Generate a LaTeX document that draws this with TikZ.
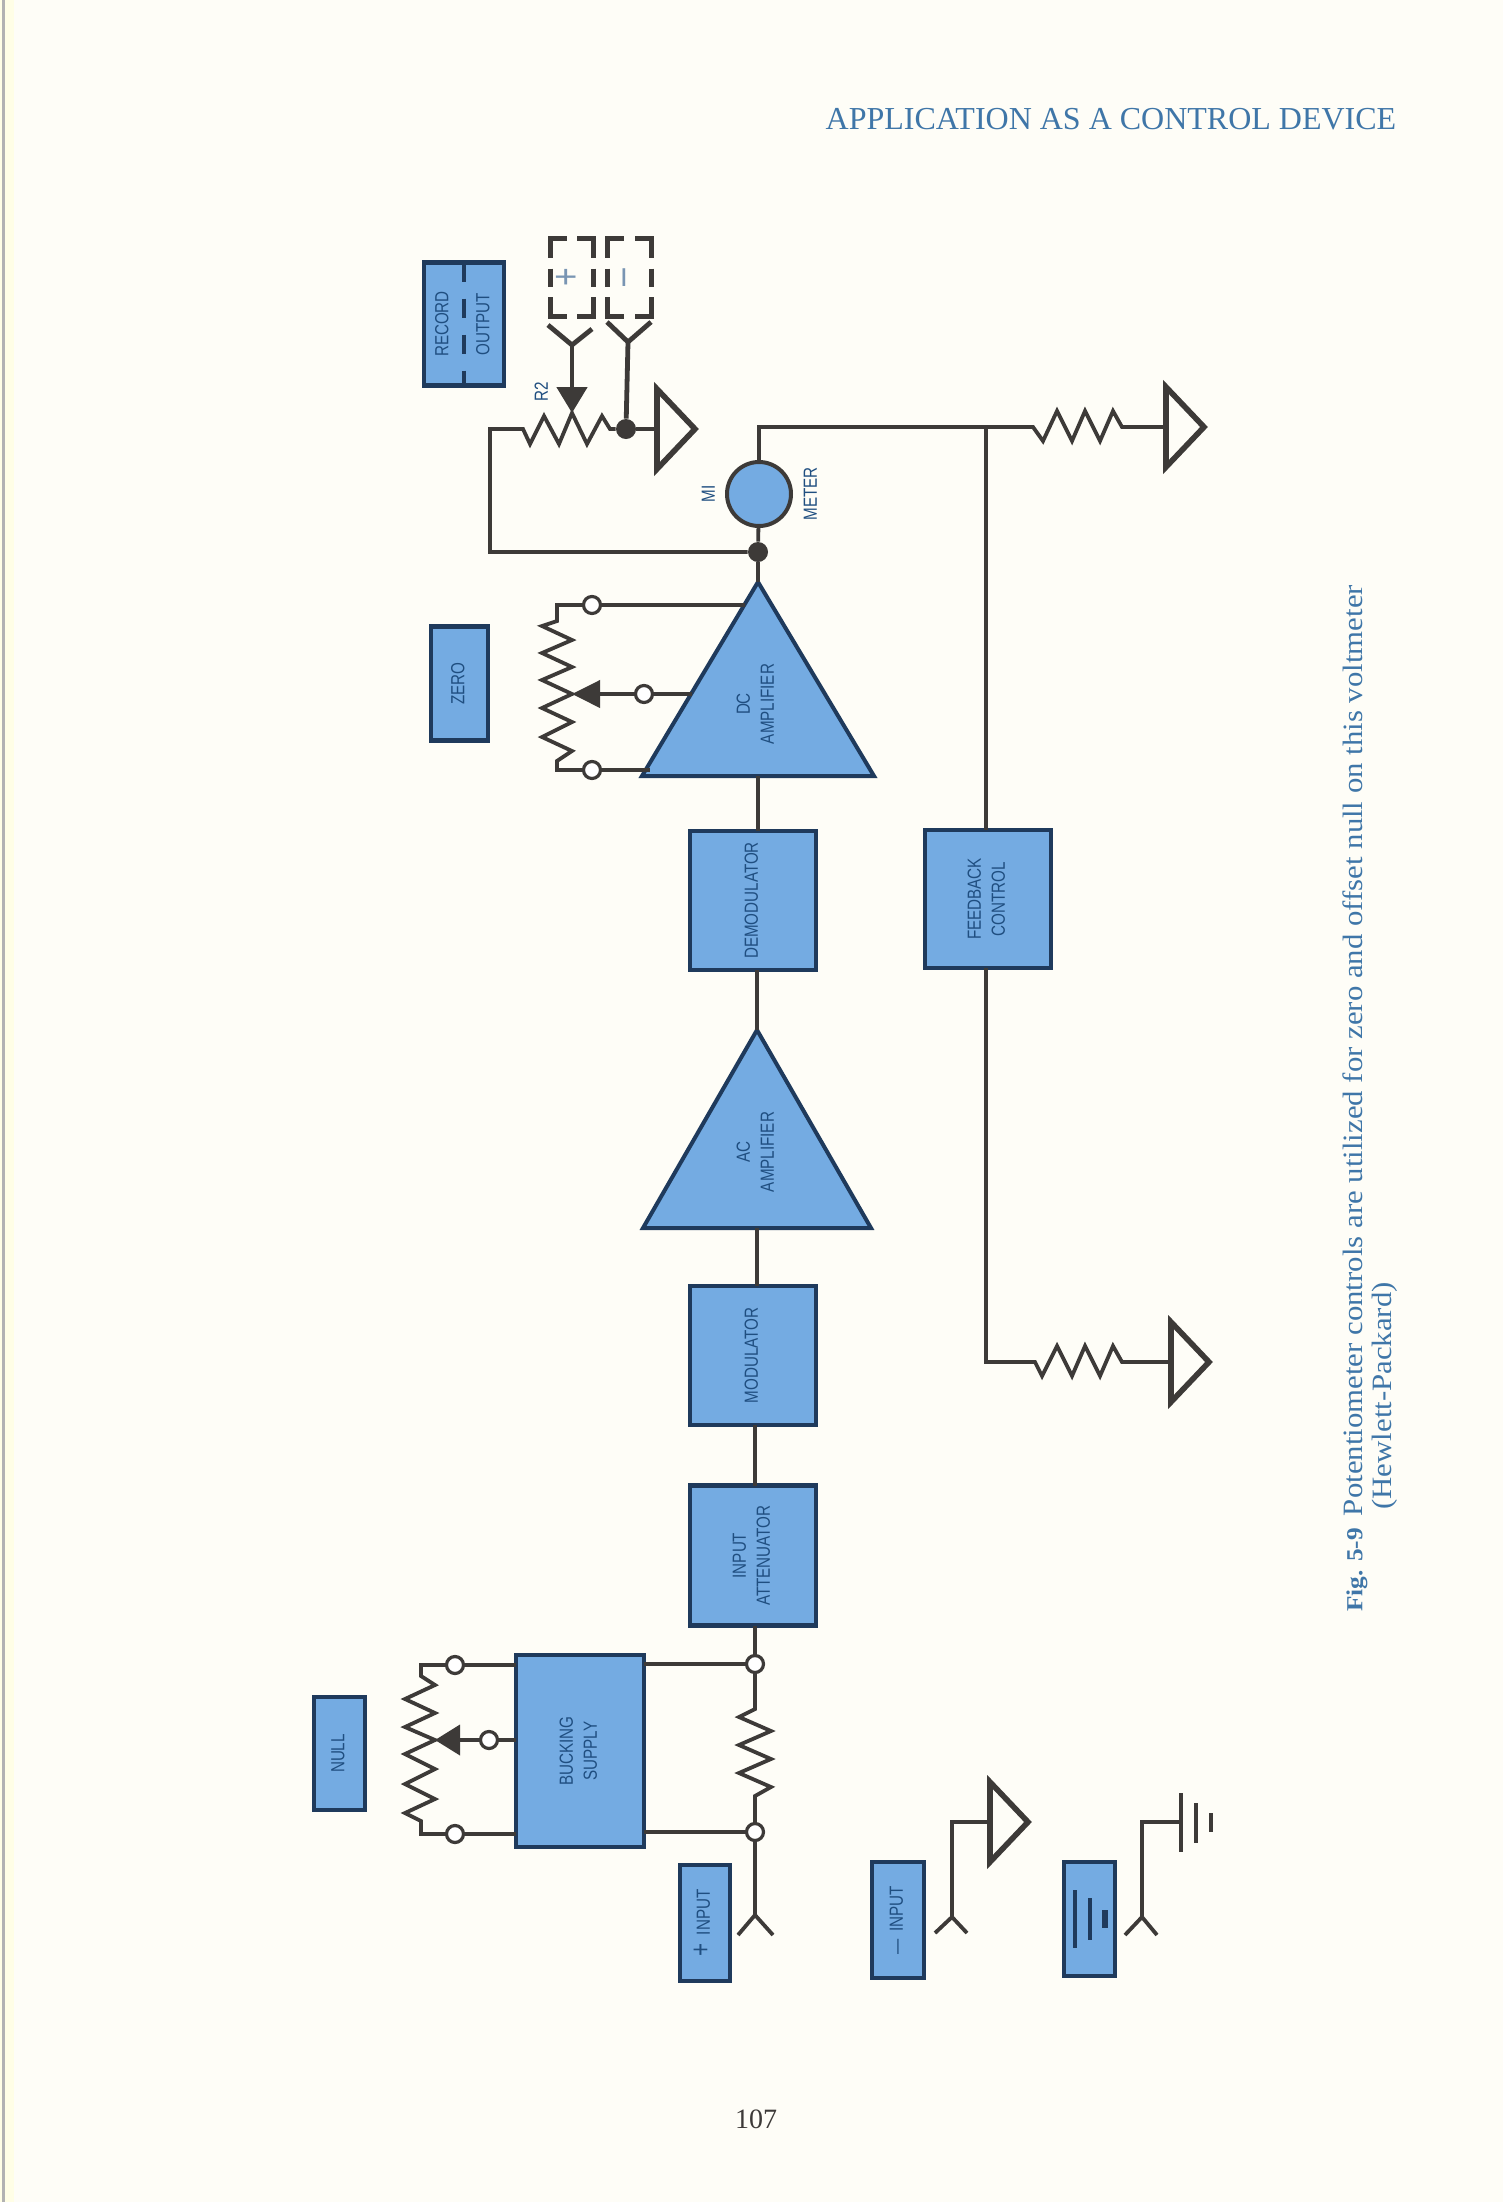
\documentclass[tikz,border=0pt]{standalone}
\usepackage{fontspec}
\usepackage{graphicx}
\usepackage{tikz}
\usetikzlibrary{shapes, arrows.meta, positioning}
\setmainfont{Liberation Serif}
\newfontfamily\tagfont[FakeStretch=0.8]{Liberation Sans}
\newfontfamily\capfont[FakeStretch=1.1]{Liberation Serif}
\definecolor{paper}{HTML}{FEFDF7}
\definecolor{boxblue}{HTML}{74ABE2}
\definecolor{boxline}{HTML}{1F3A5C}
\definecolor{wirecol}{HTML}{3D3A38}
\definecolor{tagblue}{HTML}{1F4E80}
\definecolor{headblue}{HTML}{3F76A8}
\tikzstyle{block} = [draw=boxline, fill=boxblue, rectangle, line width=2.2pt, inner sep=0pt, outer sep=0pt, text=tagblue, font=\tagfont\fontsize{9.5}{12}\selectfont]
\tikzstyle{tag} = [inner sep=0pt, text=tagblue, font=\tagfont\fontsize{9.5}{12}\selectfont]
\tikzstyle{wire} = [draw=wirecol, line width=1.9pt, line join=miter]
\tikzstyle{heavy} = [draw=wirecol, line width=2.4pt]
\tikzstyle{amp} = [draw=boxline, fill=boxblue, line width=2pt, isosceles triangle, isosceles triangle stretches, shape border rotate=90, minimum height=97pt, minimum width=116pt, inner sep=0pt, outer sep=0pt, anchor=apex]
\tikzstyle{gnd} = [draw=wirecol, fill=paper, line width=2.8pt, isosceles triangle, isosceles triangle stretches, minimum height=19pt, minimum width=40pt, inner sep=0pt, outer sep=0pt, anchor=lower side]
\tikzstyle{dot} = [circle, fill=wirecol, inner sep=0pt, minimum size=10pt]
\tikzstyle{term} = [circle, draw=wirecol, fill=white, line width=1.6pt, inner sep=0pt, minimum size=8.5pt, outer sep=0pt]
\tikzstyle{capline} = [rotate=90, anchor=west, inner sep=0pt, text=headblue, font=\capfont\fontsize{14}{18}\selectfont]
\newcommand{\vtag}[1]{\rotatebox{90}{\begin{tabular}{@{}c@{}}#1\end{tabular}}}
\newcommand{\dashcase}[1]{%
  \draw[heavy] ([yshift=-9.5pt]#1.north west) -- (#1.north west) -- ([xshift=8pt]#1.north west);
  \draw[heavy] ([yshift=-9.5pt]#1.north east) -- (#1.north east) -- ([xshift=-8pt]#1.north east);
  \draw[heavy] ([yshift=9.5pt]#1.south west) -- (#1.south west) -- ([xshift=8pt]#1.south west);
  \draw[heavy] ([yshift=9.5pt]#1.south east) -- (#1.south east) -- ([xshift=-8pt]#1.south east);
  \draw[heavy] ([yshift=4.5pt]#1.west) -- ([yshift=-4.5pt]#1.west);
  \draw[heavy] ([yshift=4.5pt]#1.east) -- ([yshift=-4.5pt]#1.east);}

\begin{document}
\begin{tikzpicture}[x=0.5pt,y=-0.5pt,>=latex]
  \path[use as bounding box, fill=paper] (0,0) rectangle (1503,2202);
  \fill[white!90!yellow] (0,0) rectangle (14,2202);
  \draw[black!30, line width=1.5pt] (3,0) -- (3,2202);

  % page texts
  \node[text=headblue, font=\fontsize{16}{18}\selectfont] (head) at (1111,119) {APPLICATION AS A CONTROL DEVICE};
  \node[text=wirecol, font=\fontsize{14}{16}\selectfont] (pageno) at (756,2119) {107};
  \node[capline] (caption) at (1355,1612) {{\fontsize{11.5}{18}\selectfont\textbf{Fig. 5-9}}\hspace{6pt}Potentiometer controls are utilized for zero and offset null on this voltmeter};
  \node[capline] (credit) at (1385,1510) {(Hewlett-Packard)};

  % signal chain
  \node[amp] (dcamp) at (758,582) {};
  \node[tag] (dctag) at (757,704) {\vtag{DC\\AMPLIFIER}};
  \node[block, minimum width=63pt, minimum height=69.5pt] (demod) at (753,900.5) {\vtag{DEMODULATOR}};
  \node[amp, minimum height=99pt, minimum width=114pt] (acamp) at (757,1030) {};
  \node[tag] (actag) at (757,1152) {\vtag{AC\\AMPLIFIER}};
  \node[block, minimum width=63pt, minimum height=69.5pt, below of=demod, node distance=227.5pt] (modul) {\vtag{MODULATOR}};
  \node[block, minimum width=63pt, minimum height=70pt, below of=modul, node distance=100pt] (atten) {\vtag{INPUT\\ATTENUATOR}};
  \node[block, minimum width=63pt, minimum height=69pt] (feedback) at (988,899) {\vtag{FEEDBACK\\CONTROL}};
  \node[block, minimum width=64pt, minimum height=96pt] (bucking) at (580,1751) {\vtag{BUCKING\\SUPPLY}};

  % panel legends
  \node[block, minimum width=28.5pt, minimum height=57pt] (zero) at (459.5,683.5) {\vtag{ZERO}};
  \node[block, minimum width=25.5pt, minimum height=56.5pt] (null) at (339.5,1753.5) {\vtag{NULL}};
  \node[block, minimum width=40pt, minimum height=61.5pt] (record) at (464,324) {\vtag{RECORD\\[8.5pt]OUTPUT}};
  \node[block, minimum width=25pt, minimum height=58pt] (plusin) at (705,1923) {\vtag{{\fontsize{14}{12}\selectfont +}\;\,INPUT}};
  \node[block, minimum width=26pt, minimum height=58pt] (minusin) at (898,1920) {\vtag{— \,INPUT}};
  \node[block, minimum width=25.5pt, minimum height=57pt] (gndbox) at (1089.5,1919) {};
  \draw[boxline, line width=2.2pt, dash pattern=on 9.5pt off 8.5pt] (record.north) -- (record.south);
  \draw[boxline, line width=2.4pt] (1075,1890) -- (1075,1948);
  \draw[boxline, line width=2.4pt] (1090,1898) -- (1090,1940);
  \draw[boxline, line width=3pt] (1105,1910) -- (1105,1928);

  % meter and record jacks
  \node[circle, draw=wirecol, fill=boxblue, line width=2pt, inner sep=0pt, minimum size=32pt, outer sep=0pt] (meter) at (759,494) {};
  \node[tag, left of=meter, node distance=24.5pt] (mitag) {\vtag{MI}};
  \node[tag, right of=meter, node distance=26.5pt] (metertag) {\vtag{METER}};
  \node[dot] (meterdot) at (758,552) {};
  \node[dot] (r2dot) at (626,429) {};
  \node[tag] (r2tag) at (543,392) {\vtag{R2}};
  \node[gnd] (gndrec) at (657,429) {};
  \node[tag, text=tagblue!60, minimum width=21pt, minimum height=38.5pt] (plusjack) at (572,277.5) {\vtag{\fontsize{20}{20}\selectfont +}};
  \node[tag, text=tagblue!60, minimum width=21.5pt, minimum height=38.5pt] (minusjack) at (629.5,277.5) {\vtag{\fontsize{20}{20}\selectfont –}};
  \dashcase{plusjack}
  \dashcase{minusjack}
  \coordinate (r2corner) at (490,429);
  \coordinate (r2fork) at (572,345);
  \coordinate (r2wiper) at (572,413);
  \coordinate (minusfork) at (628,342);

  \draw[wire] (dcamp.lower side) -- (dcamp.lower side |- demod.north);
  \draw[wire] (demod.south -| acamp.apex) -- (acamp.apex);
  \draw[wire] (acamp.lower side) -- (acamp.lower side |- modul.north);
  \draw[wire] (modul.south -| 755,0) -- (atten.north -| 755,0);
  \draw[wire] (meterdot) -- (dcamp.apex);
  \draw[wire] (meter) -- (meterdot);
  \draw[wire] (meterdot) -| (r2corner) -- (523,429) -- (530,444) -- (544,416) -- (559,444) -- (572,413) -- (587,444) -- (602,416) -- (610,429) -- (r2dot);
  \draw[wire] (r2dot) -- (gndrec.lower side);
  \draw[heavy] (548,325) -- (r2fork) -- (592,329);
  \draw[heavy, -{Triangle[length=13pt,width=15pt]}] (r2fork) -- (r2wiper);
  \draw[heavy] (607,322) -- (minusfork) -- (651,322);
  \draw[heavy] (minusfork) -- (r2dot);

  % feedback loop
  \coordinate (fbtop) at (986,427);
  \coordinate (fbbot) at (986,1362);
  \node[gnd] (gndtop) at (1166,427) {};
  \node[gnd] (gndbot) at (1171,1362) {};
  \draw[wire] (meter) |- (fbtop) -- (1033,427) -- (1043,441) -- (1057,411) -- (1072,441) -- (1085,411) -- (1100,441) -- (1113,411) -- (1122,427) -- (gndtop.lower side);
  \draw[wire] (fbtop) -- (feedback.north -| fbtop);
  \draw[wire] (feedback.south -| fbbot) -- (fbbot) -- (1035,1362) -- (1042,1376) -- (1057,1346) -- (1072,1376) -- (1085,1346) -- (1100,1376) -- (1113,1346) -- (1122,1362) -- (gndbot.lower side);

  % zero control
  \node[term] (zerotop) at (592,605) {};
  \node[term] (zerobot) at (592,770) {};
  \node[term] (zeromid) at (644,694) {};
  \coordinate (zerotip) at (572,694);
  \draw[wire] (zerotop) -- (745,605);
  \draw[wire] (zerobot) -- (650,770);
  \draw[wire] (zeromid) -- (692,694);
  \draw[wire] (zerotop) -| (557,621) -- (542,626) -- (572,640) -- (542,653) -- (572,667) -- (542,680) -- (572,694) -- (542,708) -- (572,722) -- (542,737) -- (572,751) -- (557,761) |- (zerobot);
  \draw[wire, -{Triangle[length=14pt,width=13.5pt]}] (zeromid) -- (zerotip);

  % null control and input
  \node[term] (nulltop) at (455,1665) {};
  \node[term] (nullbot) at (455,1834) {};
  \node[term] (nullmid) at (489,1740) {};
  \coordinate (nulltip) at (435,1740);
  \draw[wire] (nulltop) -- (nulltop -| bucking.west);
  \draw[wire] (nullbot) -- (nullbot -| bucking.west);
  \draw[wire] (nullmid) -- (nullmid -| bucking.west);
  \draw[wire] (nulltop) -| (421,1676) -- (435,1685) -- (405,1699) -- (435,1713) -- (405,1727) -- (435,1740) -- (405,1754) -- (435,1769) -- (405,1784) -- (435,1799) -- (405,1813) -- (421,1821) |- (nullbot);
  \draw[wire, -{Triangle[length=12.5pt,width=15pt]}] (nullmid) -- (nulltip);
  \node[term] (intop) at (755,1664) {};
  \node[term] (inbot) at (755,1832) {};
  \coordinate (infork) at (755,1915);
  \draw[wire] (atten.south -| intop) -- (intop);
  \draw[wire] (intop -| bucking.east) -- (intop);
  \draw[wire] (inbot -| bucking.east) -- (inbot);
  \draw[wire] (intop) -- (755,1709) -- (739,1717) -- (771,1731) -- (739,1745) -- (771,1759) -- (739,1773) -- (771,1787) -- (755,1796) -- (inbot);
  \draw[wire] (inbot) -- (infork);
  \draw[wire] (738,1935) -- (infork) -- (773,1935);

  % minus input and chassis
  \coordinate (minfork) at (952,1917);
  \coordinate (chfork) at (1142,1917);
  \coordinate (chplate) at (1181,1822);
  \node[gnd] (gndin) at (990,1822) {};
  \draw[wire] (935,1933) -- (minfork) -- (967,1933);
  \draw[wire] (minfork) |- (gndin.lower side);
  \draw[wire] (1125,1935) -- (chfork) -- (1157,1935);
  \draw[wire] (chfork) |- (chplate);
  \draw[heavy] (1181,1793) -- (1181,1852);
  \draw[heavy] (1196,1803) -- (1196,1843);
  \draw[heavy] (1211,1813) -- (1211,1832);
\end{tikzpicture}
\end{document}
